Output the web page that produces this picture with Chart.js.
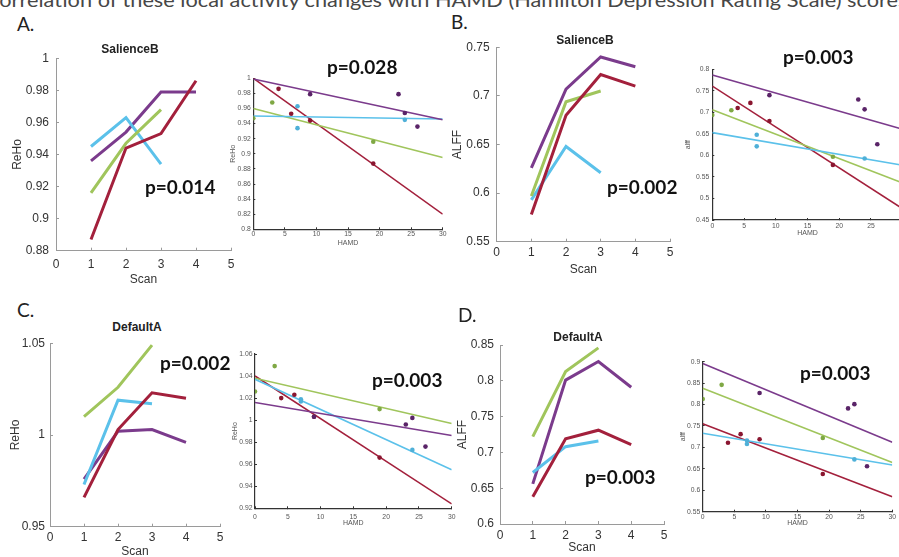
<!DOCTYPE html>
<html><head><meta charset="utf-8">
<script src="https://cdn.jsdelivr.net/npm/chart.js@4.4.0/dist/chart.umd.min.js"></script>
<style>
html,body{margin:0;padding:0;width:899px;height:557px;overflow:hidden;background:#fff;position:relative}
.c{position:absolute}
.t{position:absolute;white-space:nowrap}
</style></head><body>
<script>
// ---------------- DATA ----------------
const subjects = ['purple', 'cyan', 'green', 'red'];
const scans = [1, 2, 3, 4];
// HAMD score of each subject at each scan
const hamdPurple = [26, 24, 9, 23];
const hamdCyan = [24, 7, 7];
const hamdGreen = [19, 0, 3];
const hamdRed = [19, 9, 6, 4];

// A: ReHo, SalienceB
const reHoSalPurple = [0.936, 0.954, 0.979, 0.979];
const reHoSalCyan = [0.945, 0.963, 0.934];
const reHoSalGreen = [0.916, 0.947, 0.968];
const reHoSalRed = [0.887, 0.944, 0.953, 0.986];
// B: ALFF, SalienceB
const alffSalPurple = [0.626, 0.707, 0.740, 0.730];
const alffSalCyan = [0.593, 0.648, 0.621];
const alffSalGreen = [0.597, 0.694, 0.705];
const alffSalRed = [0.578, 0.680, 0.722, 0.710];
// C: ReHo, DefaultA
const reHoDefPurple = [0.976, 1.002, 1.003, 0.996];
const reHoDefCyan = [0.973, 1.019, 1.017];
const reHoDefGreen = [1.010, 1.026, 1.049];
const reHoDefRed = [0.966, 1.003, 1.023, 1.020];
// D: ALFF, DefaultA
const alffDefPurple = [0.656, 0.801, 0.827, 0.791];
const alffDefCyan = [0.672, 0.708, 0.716];
const alffDefGreen = [0.722, 0.813, 0.846];
const alffDefRed = [0.638, 0.719, 0.731, 0.711];

// fitted lines (value at HAMD 0 and at HAMD 30), order: purple, cyan, green, red
const fitX = [0, 30];
const fitStartA = [0.999, 0.950, 0.960, 1.000];
const fitEndA   = [0.945, 0.946, 0.895, 0.820];
const fitStartB = [0.787, 0.653, 0.706, 0.761];
const fitEndB   = [0.661, 0.577, 0.536, 0.476];
const fitStartC = [1.016, 1.037, 1.038, 1.040];
const fitEndC   = [0.986, 0.955, 0.997, 0.924];
const fitStartD = [0.896, 0.733, 0.838, 0.755];
const fitEndD   = [0.712, 0.659, 0.665, 0.585];

// tick labels
const scanTicks = [0, 1, 2, 3, 4, 5];
const hamdTicks = [0, 5, 10, 15, 20, 25, 30];
const yTicksA = [0.88, 0.9, 0.92, 0.94, 0.96, 0.98, 1];
const yTicksB = [0.55, 0.6, 0.65, 0.7, 0.75];
const yTicksC = [0.95, 1, 1.05];
const yTicksD = [0.6, 0.65, 0.7, 0.75, 0.8, 0.85];
const yTicksAr = [0.8, 0.82, 0.84, 0.86, 0.88, 0.9, 0.92, 0.94, 0.96, 0.98, 1];
const yTicksBr = [0.45, 0.5, 0.55, 0.6, 0.65, 0.7, 0.75, 0.8];
const yTicksCr = [0.92, 0.94, 0.96, 0.98, 1, 1.02, 1.04, 1.06];
const yTicksDr = [0.55, 0.6, 0.65, 0.7, 0.75, 0.8, 0.85, 0.9];

// ---------------- STYLE ----------------
const F = "'Liberation Sans', Arial, Helvetica, sans-serif";
const lineColors = ['#7b3b8c', '#5bc1ea', '#a0c55c', '#a3203c'];
const dotColors = ['#5a2468', '#4fb0d8', '#7fa844', '#8a1630'];
const hamdAll = [hamdPurple, hamdCyan, hamdGreen, hamdRed];

function makeChart(g, datasets, xTicks, yTicks, xTitle, yTitle, st) {
  const left = Math.round(g.l - g.yW), top = Math.round(g.t - g.padT);
  const yW = g.l - left, padT = g.t - top;
  const w = Math.round(g.r + g.padR - left), h = Math.round(g.b + g.xH - top);
  const padR = left + w - g.r, xH = top + h - g.b;
  const div = document.createElement('div');
  div.className = 'c';
  div.style.left = left + 'px'; div.style.top = top + 'px';
  div.style.width = w + 'px'; div.style.height = h + 'px';
  const cv = document.createElement('canvas');
  cv.width = w; cv.height = h; cv.style.width = w + 'px'; cv.style.height = h + 'px';
  div.appendChild(cv); document.body.appendChild(div);
  const axis = (ticksArr, isX) => ({
    type: 'linear',
    min: ticksArr[0], max: ticksArr[ticksArr.length - 1],
    afterBuildTicks: s => { s.ticks = ticksArr.map(v => ({ value: v })); },
    afterFit: s => {
      if (isX) { s.height = xH; s.paddingLeft = 0; s.paddingRight = 0; }
      else { s.width = yW; s.paddingTop = 0; s.paddingBottom = 0; }
    },
    grid: { display: true, drawOnChartArea: false, drawTicks: true, tickLength: -st.tickLen,
            color: st.axis, lineWidth: 1 },
    border: { display: true, color: st.axis, width: st.axisW },
    ticks: { padding: (isX ? g.xPad : g.yPad) + st.tickLen, color: st.tick, font: { family: F, size: st.tickSize },
             maxRotation: 0, autoSkip: false, callback: v => String(v) },
    title: { display: true, text: isX ? xTitle : yTitle, color: st.tick,
             font: { family: F, size: st.titleSize }, padding: { top: 0, bottom: 0 } }
  });
  new Chart(cv, {
    type: 'line',
    data: { datasets },
    options: {
      responsive: false, animation: false, events: [],
      layout: { padding: { left: 0, top: padT, right: padR, bottom: 0 } },
      plugins: { legend: { display: false }, tooltip: { enabled: false } },
      scales: { x: axis(xTicks, true), y: axis(yTicks, false) }
    }
  });
}

function scanSets(vals) {
  return vals.map((arr, i) => ({
    data: arr.map((v, k) => ({ x: scans[k], y: v })),
    borderColor: lineColors[i], borderWidth: 3, pointRadius: 0, tension: 0, fill: false,
    order: [3, 2, 1, 0][i]
  }));
}
function hamdSets(vals, starts, ends) {
  const sets = [];
  vals.forEach((arr, i) => {
    sets.push({
      type: 'scatter',
      data: arr.map((v, k) => ({ x: hamdAll[i][k], y: v })),
      backgroundColor: dotColors[i], borderWidth: 0, pointRadius: 2.3, showLine: false, order: 0
    });
    sets.push({
      data: [{ x: fitX[0], y: starts[i] }, { x: fitX[1], y: ends[i] }],
      borderColor: lineColors[i], borderWidth: 1.6, pointRadius: 0, tension: 0, fill: false, order: 1
    });
  });
  return sets;
}

const leftStyle = { axis: '#9a9a9a', axisW: 1, tick: '#333', tickSize: 12, titleSize: 12, tickLen: 3 };
const rightStyle = { axis: '#333', axisW: 1.2, tick: '#555', tickSize: 6.8, titleSize: 7, tickLen: 2 };

// A
makeChart({ l: 56, r: 231, t: 58.3, b: 250.7, yW: 46, xH: 36, padT: 8, padR: 10, xPad: 7, yPad: 7 },
  scanSets([reHoSalPurple, reHoSalCyan, reHoSalGreen, reHoSalRed]), scanTicks, yTicksA, 'Scan', 'ReHo', leftStyle);
makeChart({ l: 253.3, r: 442.7, t: 78.3, b: 229.3, yW: 24, xH: 18, padT: 5, padR: 6, xPad: 1, yPad: 2.5 },
  hamdSets([reHoSalPurple, reHoSalCyan, reHoSalGreen, reHoSalRed], fitStartA, fitEndA), hamdTicks, yTicksAr, 'HAMD', 'ReHo', rightStyle);
// B
makeChart({ l: 496.7, r: 670, t: 47.3, b: 241.7, yW: 47, xH: 35.5, padT: 8, padR: 10, xPad: 4, yPad: 7 },
  scanSets([alffSalPurple, alffSalCyan, alffSalGreen, alffSalRed]), scanTicks, yTicksB, 'Scan', 'ALFF', leftStyle);
makeChart({ l: 712.3, r: 902.7, t: 69.3, b: 220, yW: 28, xH: 17, padT: 5, padR: 6, xPad: 2.4, yPad: 3 },
  hamdSets([alffSalPurple, alffSalCyan, alffSalGreen, alffSalRed], fitStartB, fitEndB), hamdTicks, yTicksBr, 'HAMD', 'alff', rightStyle);
// C
makeChart({ l: 50, r: 220, t: 343.3, b: 526.7, yW: 42, xH: 32.5, padT: 8, padR: 10, xPad: 4, yPad: 5 },
  scanSets([reHoDefPurple, reHoDefCyan, reHoDefGreen, reHoDefRed]), scanTicks, yTicksC, 'Scan', 'ReHo', leftStyle);
makeChart({ l: 255, r: 451.7, t: 354, b: 508.3, yW: 24, xH: 19, padT: 5, padR: 6, xPad: 5, yPad: 2.5 },
  hamdSets([reHoDefPurple, reHoDefCyan, reHoDefGreen, reHoDefRed], fitStartC, fitEndC), hamdTicks, yTicksCr, 'HAMD', 'ReHo', rightStyle);
// D
makeChart({ l: 500, r: 664, t: 345, b: 524, yW: 45, xH: 31, padT: 8, padR: 10, xPad: 4, yPad: 6 },
  scanSets([alffDefPurple, alffDefCyan, alffDefGreen, alffDefRed]), scanTicks, yTicksD, 'Scan', 'ALFF', leftStyle);
makeChart({ l: 702.7, r: 892.3, t: 361.7, b: 511.7, yW: 24, xH: 15.5, padT: 5, padR: 6, xPad: 1.7, yPad: 2.5 },
  hamdSets([alffDefPurple, alffDefCyan, alffDefGreen, alffDefRed], fitStartD, fitEndD), hamdTicks, yTicksDr, 'HAMD', 'alff', rightStyle);

// ---------------- TEXT ----------------
function label(text, x, yc, font, size, weight, color, center) {
  const d = document.createElement('div');
  d.className = 't';
  d.textContent = text;
  d.style.fontFamily = font; d.style.fontSize = size + 'px'; d.style.fontWeight = weight;
  d.style.color = color; d.style.lineHeight = (size * 1.2) + 'px';
  d.style.top = (yc - size * 0.6) + 'px';
  d.style.left = x + 'px';
  if (center) d.style.transform = 'translateX(-50%)';
  document.body.appendChild(d);
  return d;
}
const PF = "Lato, 'Open Sans', sans-serif";
// page title (cut by top edge)
(function () {
  const full = 'Correlation of these local activity changes with HAMD (Hamilton Depression Rating Scale) scores';
  const size = 18.5;
  const ctx = document.createElement('canvas').getContext('2d');
  ctx.font = '400 ' + size + 'px Lato';
  const wVis = ctx.measureText('orrelation of these local activity changes with HAMD (Hamilton Depression Rating Scale) score').width;
  const wC = ctx.measureText('C').width;
  const k = 900 / wVis;
  const d = document.createElement('div');
  d.className = 't'; d.textContent = full;
  d.style.fontFamily = PF; d.style.fontSize = size + 'px'; d.style.color = '#474747';
  d.style.lineHeight = size + 'px';
  d.style.top = (7.5 - size * 0.887) + 'px';
  d.style.left = (-wC * k - 0.5) + 'px';
  d.style.transformOrigin = '0 0';
  d.style.transform = 'scaleX(' + k + ')';
  document.body.appendChild(d);
})();

label('A.', 17, 24, PF, 19, 400, '#222', false);
label('B.', 451, 22, PF, 19, 400, '#222', false);
label('C.', 17, 310, PF, 19, 400, '#222', false);
label('D.', 458, 315, PF, 19, 400, '#222', false);

label('SalienceB', 130, 49, F, 12, 700, '#222', true);
label('SalienceB', 585, 40, F, 12, 700, '#222', true);
label('DefaultA', 137, 327, F, 12, 700, '#222', true);
label('DefaultA', 578, 337, F, 12, 700, '#222', true);

label('p=0.014', 145, 187, PF, 19, 700, '#111', false);
label('p=0.028', 327, 67, PF, 19, 700, '#111', false);
label('p=0.002', 607, 187, PF, 19, 700, '#111', false);
label('p=0.003', 783, 57, PF, 19, 700, '#111', false);
label('p=0.002', 160, 363, PF, 19, 700, '#111', false);
label('p=0.003', 372, 380, PF, 19, 700, '#111', false);
label('p=0.003', 585, 477, PF, 19, 700, '#111', false);
label('p=0.003', 800, 373, PF, 19, 700, '#111', false);
</script>
</body></html>
